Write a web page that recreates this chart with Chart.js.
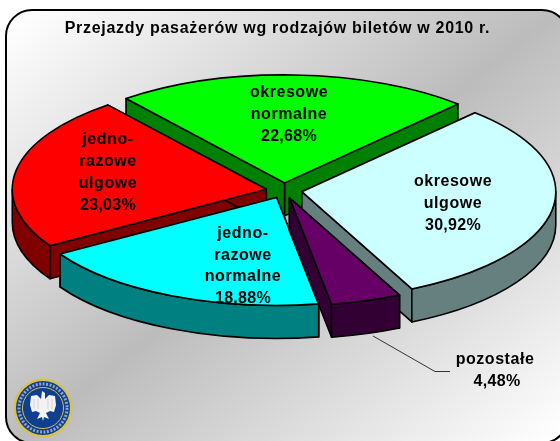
<!DOCTYPE html>
<html><head><meta charset="utf-8">
<style>html,body{margin:0;padding:0;background:#fff}canvas{display:block}</style>
<script src="https://cdn.jsdelivr.net/npm/chart.js@4"></script>
</head><body><canvas id="c" width="560" height="441"></canvas>
<script>
const chartTitle = 'Przejazdy pasażerów wg rodzajów biletów w 2010 r.';
const categories = ['okresowe ulgowe','pozostałe','jednorazowe normalne','jednorazowe ulgowe','okresowe normalne'];
const shares = [30.92, 4.48, 18.88, 23.03, 22.68];
const shareLabels = ['30,92%','4,48%','18,88%','23,03%','22,68%'];
const labelLines = [['okresowe','ulgowe'],['pozostałe'],['jedno-','razowe','normalne'],['jedno-','razowe','ulgowe'],['okresowe','normalne']];
const topColors = ['#ccffff','#660066','#00ffff','#ff0000','#00ff00'];
const sideColors = ['#668080','#330033','#008080','#800000','#008000'];
const labelX = [453,497,243,108,289];
const labelY = [182,360,233.5,140,93];
const paintOrder = [4,0,3,2,1];
const FONT = '"Liberation Sans", Arial, sans-serif';
const CX = 284, CY = 190.5, SQUASH = 0.425, DEPTH = 33;

function drawPanel(ctx){
  const x=6,y=10,w=562,h=433,r=26;
  const g=ctx.createLinearGradient(82,-36,498,486);
  g.addColorStop(0,'#ffffff');g.addColorStop(0.5,'#bcbcbc');g.addColorStop(1,'#ffffff');
  ctx.beginPath();ctx.roundRect(x,y,w,h,r);ctx.fillStyle=g;ctx.fill();
  ctx.lineWidth=2;ctx.strokeStyle='#000';ctx.stroke();
}
function drawSeal(ctx){
  const x=43,y=408;
  ctx.save();
  ctx.beginPath();ctx.arc(x,y,29.5,0,7);ctx.fillStyle='#d9c24a';ctx.fill();
  ctx.beginPath();ctx.arc(x,y,27,0,7);ctx.fillStyle='#0f3f8f';ctx.fill();
  ctx.beginPath();ctx.arc(x,y,24,0,7);ctx.setLineDash([2,1.5]);ctx.lineWidth=3;ctx.strokeStyle='#8fa3c4';ctx.stroke();ctx.setLineDash([]);
  ctx.beginPath();ctx.arc(x,y,20.5,0,7);ctx.lineWidth=1;ctx.strokeStyle='#d9c24a';ctx.stroke();
  ctx.beginPath();ctx.arc(x,y,19.5,0,7);ctx.fillStyle='#0f3f8f';ctx.fill();
  ctx.fillStyle='#f2f2f2';
  ctx.beginPath();
  ctx.moveTo(x-1,y-17);ctx.lineTo(x+2,y-15);ctx.lineTo(x+2,y-9);
  ctx.lineTo(x+6,y-13);ctx.lineTo(x+12,y-12);ctx.lineTo(x+13,y-3);ctx.lineTo(x+11,y+4);ctx.lineTo(x+7,y+3);
  ctx.lineTo(x+3,y+5);ctx.lineTo(x+6,y+11);ctx.lineTo(x+1,y+9);ctx.lineTo(x,y+13);ctx.lineTo(x-1,y+9);ctx.lineTo(x-6,y+11);ctx.lineTo(x-3,y+5);
  ctx.lineTo(x-7,y+3);ctx.lineTo(x-11,y+4);ctx.lineTo(x-13,y-3);ctx.lineTo(x-12,y-12);ctx.lineTo(x-6,y-13);ctx.lineTo(x-2,y-9);
  ctx.closePath();ctx.fill();
  ctx.strokeStyle='#bdbdbd';ctx.lineWidth=0.6;
  for(const s of [-1,1]){for(const d of [5,9]){ctx.beginPath();ctx.moveTo(x+s*d,y-9);ctx.lineTo(x+s*d,y+1);ctx.stroke();}}
  ctx.restore();
}
const pie3d = {
  id:'pie3d',
  beforeDraw(chart){
    const ctx=chart.ctx;
    drawPanel(ctx);
    ctx.letterSpacing='0.7px';
  },
  beforeDatasetsDraw(chart){
    const ctx=chart.ctx, arcs=chart.getDatasetMeta(0).data;
    ctx.save();
    ctx.letterSpacing='0px';
    ctx.lineJoin='round';ctx.lineWidth=1.6;ctx.strokeStyle='#000';
    for(const i of paintOrder){
      const a=arcs[i], s=a.startAngle, e=a.endAngle, m=(s+e)/2, off=a.options.offset;
      const rx=a.outerRadius, ry=rx*SQUASH;
      const ox=CX+off*Math.cos(m), oy=CY+off*Math.sin(m)*SQUASH;
      const px=t=>ox+rx*Math.cos(t), py=t=>oy+ry*Math.sin(t);
      ctx.fillStyle=sideColors[i];
      for(const t of [s,e]){
        ctx.beginPath();ctx.moveTo(ox,oy);ctx.lineTo(px(t),py(t));ctx.lineTo(px(t),py(t)+DEPTH);ctx.lineTo(ox,oy+DEPTH);ctx.closePath();ctx.fill();ctx.stroke();
      }
      const fs=Math.max(s,0), fe=Math.min(e,Math.PI);
      if(fe>fs){
        ctx.beginPath();ctx.ellipse(ox,oy,rx,ry,0,fs,fe);ctx.ellipse(ox,oy+DEPTH,rx,ry,0,fe,fs,true);ctx.closePath();ctx.fill();ctx.stroke();
      }
      ctx.beginPath();ctx.moveTo(ox,oy);ctx.ellipse(ox,oy,rx,ry,0,s,e);ctx.closePath();ctx.fillStyle=topColors[i];ctx.fill();ctx.stroke();
    }
    ctx.restore();
    return false;
  },
  afterDraw(chart){
    const ctx=chart.ctx;
    ctx.save();
    ctx.strokeStyle='#333';ctx.lineWidth=1;
    ctx.beginPath();ctx.moveTo(373,336);ctx.lineTo(435,371.5);ctx.lineTo(450,371.5);ctx.stroke();
    ctx.fillStyle='#000';ctx.font='bold 16px '+FONT;ctx.textAlign='center';ctx.textBaseline='middle';
    categories.forEach((c,i)=>{
      const lines=labelLines[i].concat([shareLabels[i]]);
      lines.forEach((t,k)=>{
        const dx=(i===1&&k===0)?-2:0;
        ctx.letterSpacing=/%/.test(t)?'0.3px':'0.55px';
        ctx.fillText(t,labelX[i]+dx,labelY[i]+k*21.7);
      });
    });
    ctx.restore();
    drawSeal(ctx);
  }
};
new Chart(document.getElementById('c'),{
  type:'pie',
  data:{labels:categories,datasets:[{data:shares,backgroundColor:topColors,offset:18,radius:254,borderWidth:0}]},
  plugins:[pie3d],
  options:{
    responsive:false,animation:false,rotation:43,
    layout:{padding:{right:5}},
    plugins:{
      legend:{display:false},tooltip:{enabled:false},
      title:{display:true,text:chartTitle,color:'#000',font:{family:FONT,size:16,weight:'bold'},padding:{top:19,bottom:0}}
    }
  }
});
</script></body></html>
